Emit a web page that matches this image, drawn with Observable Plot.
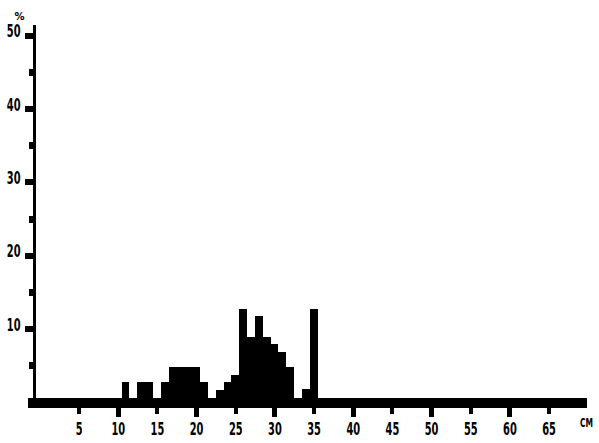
<!DOCTYPE html>
<html><head><meta charset="utf-8">
<script src="https://cdn.jsdelivr.net/npm/d3@7"></script>
<script src="https://cdn.jsdelivr.net/npm/@observablehq/plot@0.6"></script>
<style>
html,body{margin:0;padding:0;background:#fff;}
svg{display:block;}
</style>
</head><body><div id="chart"></div>
<script>
// Length classes (cm) and share of the sample (%)
const lengths  = [11, 13, 14, 16, 17, 18, 19, 20, 21, 23, 24, 25, 26, 27, 28, 29, 30, 31, 32, 34, 35];
const percents = [2.7, 2.7, 2.7, 2.7, 4.8, 4.8, 4.8, 4.8, 2.7, 1.6, 2.7, 3.7, 12.7, 8.9, 11.7, 8.9, 7.9, 6.8, 4.8, 1.8, 12.7];
const xMajorTicks = [10, 20, 30, 40, 50, 60];
const xMinorTicks = [5, 15, 25, 35, 45, 55, 65];
const xTickLabels = [5, 10, 15, 20, 25, 30, 35, 40, 45, 50, 55, 60, 65];
const yMajorTicks = [10, 20, 30, 40, 50];
const yMinorTicks = [5, 15, 25, 35, 45];
const xUnit = "CM";
const yUnit = "%";

const data = lengths.map((cm, i) => ({cm, pct: percents[i]}));
const fontFam = "'DejaVu Sans', sans-serif";

const chart = Plot.plot({
  width: 599,
  height: 443,
  marginLeft: 30,
  marginRight: 12,
  marginTop: 25,
  marginBottom: 41,
  x: {domain: [-1.2, 69.9]},
  y: {domain: [0, 51.4]},
  style: {fontFamily: fontFam, fontWeight: "bold", fontSize: "17px", color: "black", background: "white"},
  marks: [
    Plot.rectY(data, {x1: d => d.cm - 0.5, x2: d => d.cm + 0.5, y: "pct", fill: "black", shapeRendering: "crispEdges"}),
    Plot.ruleY([0], {x1: -1.45, x2: 69.9, stroke: "black", strokeWidth: 10, shapeRendering: "crispEdges"}),
    Plot.ruleX([-0.63], {y1: 0, y2: 51.4, stroke: "black", strokeWidth: 3, shapeRendering: "crispEdges"}),
    // x ticks
    Plot.axisX(xMajorTicks, {tickSize: 15, strokeWidth: 5, text: null, label: null, shapeRendering: "crispEdges"}),
    Plot.axisX(xMinorTicks, {tickSize: 12, strokeWidth: 4, text: null, label: null, shapeRendering: "crispEdges"}),
    Plot.axisX(xTickLabels, {tickSize: 0, tickPadding: 20, label: null, tickFormat: d => String(d), fontSize: 17, className: "narrow"}),
    // y ticks
    Plot.axisY(yMajorTicks, {tickSize: 8, strokeWidth: 6, dx: 3, text: null, label: null, shapeRendering: "crispEdges"}),
    Plot.axisY(yMinorTicks, {tickSize: 4, strokeWidth: 7, dx: 3, text: null, label: null, shapeRendering: "crispEdges"}),
    Plot.axisY(yMajorTicks, {tickSize: 0, tickPadding: 10, dy: -4, label: null, tickFormat: d => String(d), fontSize: 17, className: "narrow"}),
    // unit labels
    Plot.text([xUnit], {frameAnchor: "bottom-right", dx: -1, dy: 24, fontSize: 13, textAnchor: "middle", fontWeight: "bold", className: "narrow"}),
    Plot.text([yUnit], {frameAnchor: "top-left", dx: -16, dy: -13, fontSize: 10, fontWeight: "bold"})
  ]
});
document.getElementById("chart").append(chart);

// Condense the bitmap-like lettering horizontally (scale about each text's anchor)
d3.select(chart).selectAll(".narrow text").each(function() {
  const t = d3.select(this);
  const tr = t.attr("transform") || "";
  t.attr("transform", `${tr} scale(0.58,1)`);
});
</script>
</body></html>
